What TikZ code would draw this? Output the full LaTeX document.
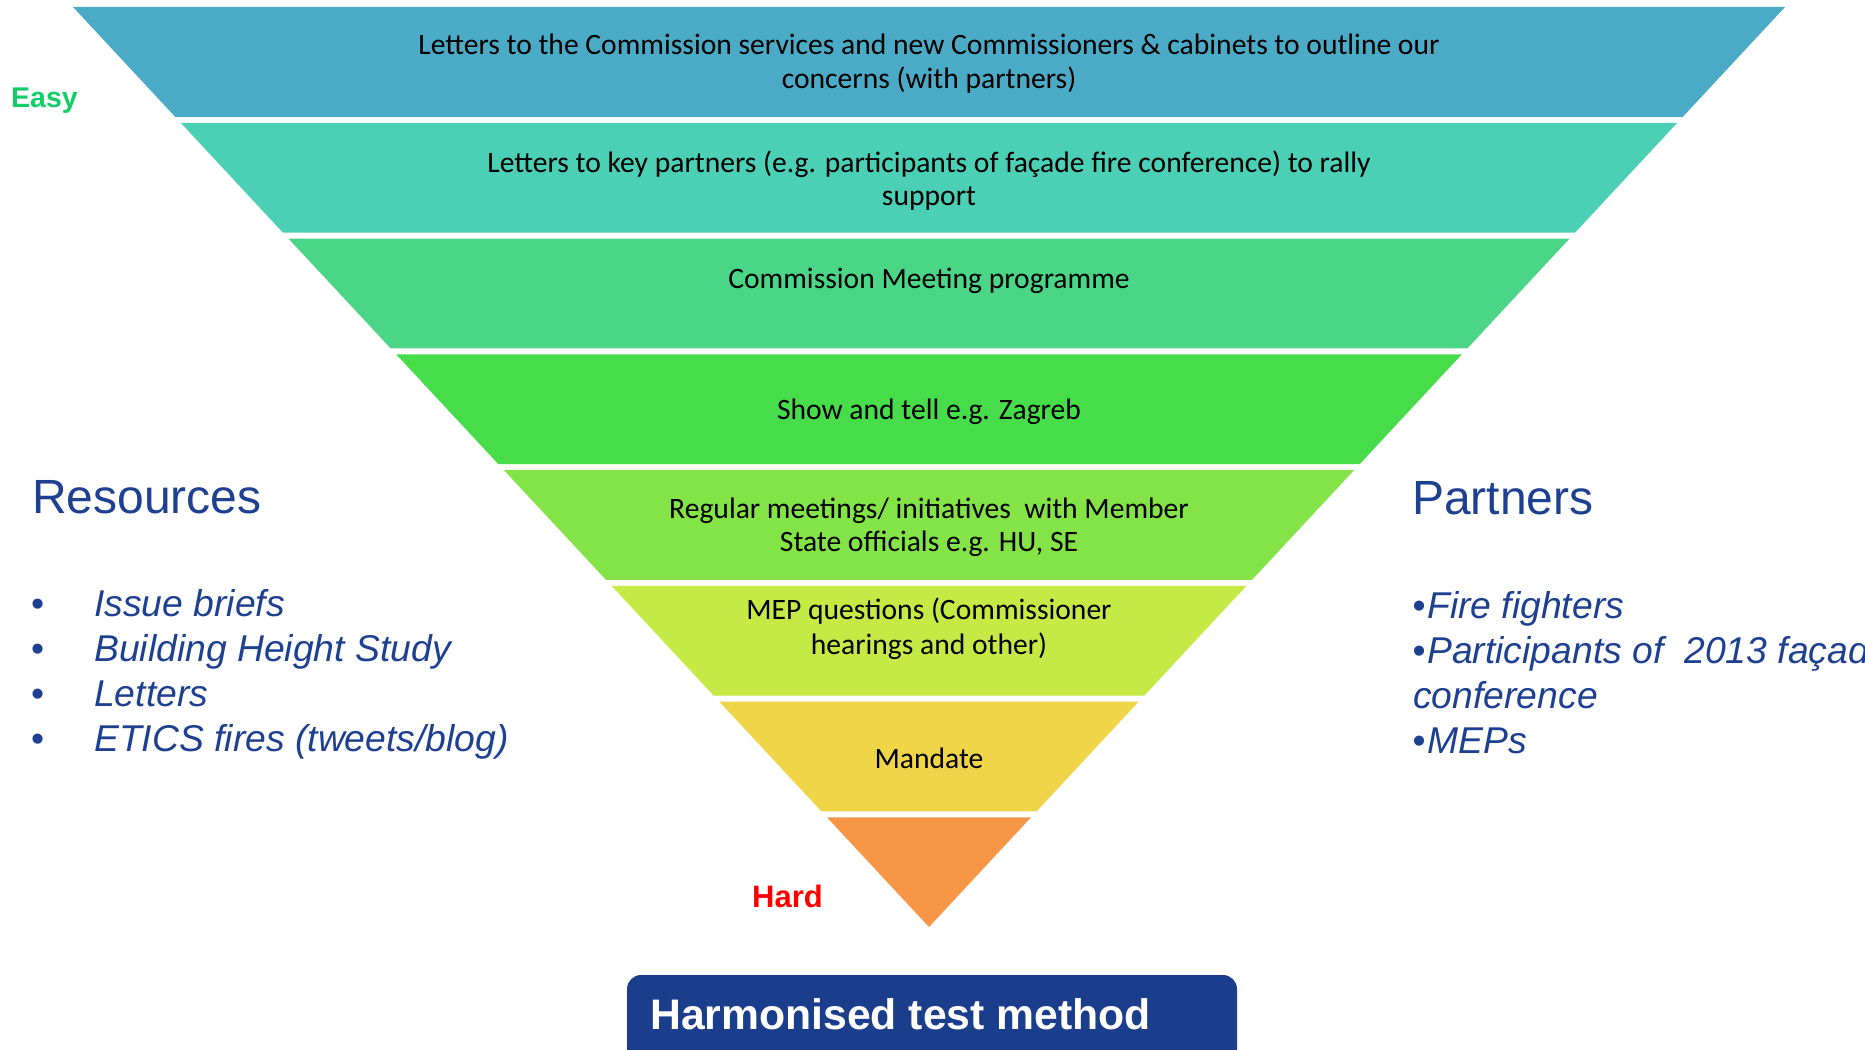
\documentclass[tikz,border=0pt]{standalone}
\usepackage{fontspec}
\setmainfont{Carlito}
\newfontfamily\arialf{Liberation Sans}
\definecolor{bandA}{RGB}{75,171,198}
\definecolor{bandB}{RGB}{75,207,181}
\definecolor{bandC}{RGB}{74,214,134}
\definecolor{bandD}{RGB}{71,221,74}
\definecolor{bandE}{RGB}{131,227,71}
\definecolor{bandF}{RGB}{197,234,70}
\definecolor{bandG}{RGB}{240,213,72}
\definecolor{bandH}{RGB}{247,150,70}
\definecolor{easygreen}{RGB}{20,205,105}
\definecolor{navytext}{RGB}{30,64,145}
\definecolor{navybox}{RGB}{27,62,140}
\newcommand\funnelband[3]{\fill[#3] ({929-0.930435*(927-#1)},#1) -- ({929+0.930435*(927-#1)},#1) -- ({929+0.930435*(927-#2)},#2) -- ({929-0.930435*(927-#2)},#2) -- cycle;}
\tikzset{
  bandtext/.style={align=center, text=black, inner sep=0pt, font=\fontsize{29.6}{33.5}\selectfont},
  headtext/.style={anchor=base west, inner sep=0pt, text=navytext, font=\arialf\fontsize{48}{56}\selectfont},
  listtext/.style={anchor=base west, inner sep=0pt, text=navytext, font=\arialf\itshape\fontsize{37.3}{45}\selectfont},
  bullettext/.style={anchor=base west, inner sep=0pt, text=navytext, font=\arialf\fontsize{37.3}{45}\selectfont},
}
\begin{document}
\begin{tikzpicture}[x=1pt,y=-1pt]
\useasboundingbox (0,0) rectangle (1865,1049);
\clip (0,0) rectangle (1865,1049);
\fill[white] (0,0) rectangle (1865,1049);
% funnel bands
\funnelband{7}{116.75}{bandA}
\funnelband{122.75}{232.5}{bandB}
\funnelband{238.5}{348.25}{bandC}
\funnelband{354.25}{464}{bandD}
\funnelband{470}{579.75}{bandE}
\funnelband{585.75}{695.5}{bandF}
\funnelband{701.5}{811.25}{bandG}
\funnelband{817.25}{927}{bandH}
% band texts
\node[bandtext] (t1) at (929,63.5) {Letters to the Commission services and new Commissioners \& cabinets to outline our\\concerns (with partners)};
\node[bandtext] (t2) at (929,180.5) {Letters to key partners (e.g. participants of façade fire conference) to rally\\support};
\node[bandtext] (t3) at (929,280.5) {Commission Meeting programme};
\node[bandtext] (t4) at (929,411.5) {Show and tell e.g. Zagreb};
\node[bandtext] (t5) at (929,527.5) {Regular meetings/ initiatives\ \ with Member\\State officials e.g. HU, SE};
\node[bandtext, font=\fontsize{29.6}{35.5}\selectfont] (t6) at (929,628.5) {MEP questions (Commissioner\\hearings and other)};
\node[bandtext] (t7) at (929,758) {Mandate};
% easy / hard
\node[anchor=base west, inner sep=0pt, text=easygreen, font=\arialf\bfseries\fontsize{28.5}{32}\selectfont] (easy) at (11,107) {Easy};
\node[anchor=base west, inner sep=0pt, text=red, font=\arialf\bfseries\fontsize{31}{36}\selectfont] (hard) at (752,907) {Hard};
% resources
\node[headtext] (res) at (32,513) {Resources};
\node[bullettext] (rb1) at (31,616) {•};
\node[listtext] (r1) at (94,616) {Issue briefs};
\node[bullettext] (rb2) at (31,661) {•};
\node[listtext] (r2) at (94,661) {Building Height Study};
\node[bullettext] (rb3) at (31,706) {•};
\node[listtext] (r3) at (94,706) {Letters};
\node[bullettext] (rb4) at (31,751) {•};
\node[listtext] (r4) at (94,751) {ETICS fires (tweets/blog)};
% partners
\node[headtext] (par) at (1412,514) {Partners};
\node[listtext] (p1) at (1412.5,618) {{\upshape•}\kern1.5pt Fire fighters};
\node[listtext] (p2) at (1412.5,663) {{\upshape•}\kern1.5pt Participants of\ \ 2013 façade fire};
\node[listtext] (p3) at (1413,708) {conference};
\node[listtext] (p4) at (1412.5,753) {{\upshape•}\kern1.5pt MEPs};
% harmonised box
\fill[navybox, rounded corners=14pt] (627,975) rectangle (1237,1090);
\node[anchor=base west, inner sep=0pt, text=white, font=\arialf\bfseries\fontsize{42.7}{48}\selectfont] (htm) at (650,1029) {Harmonised test method};
\end{tikzpicture}
\end{document}
